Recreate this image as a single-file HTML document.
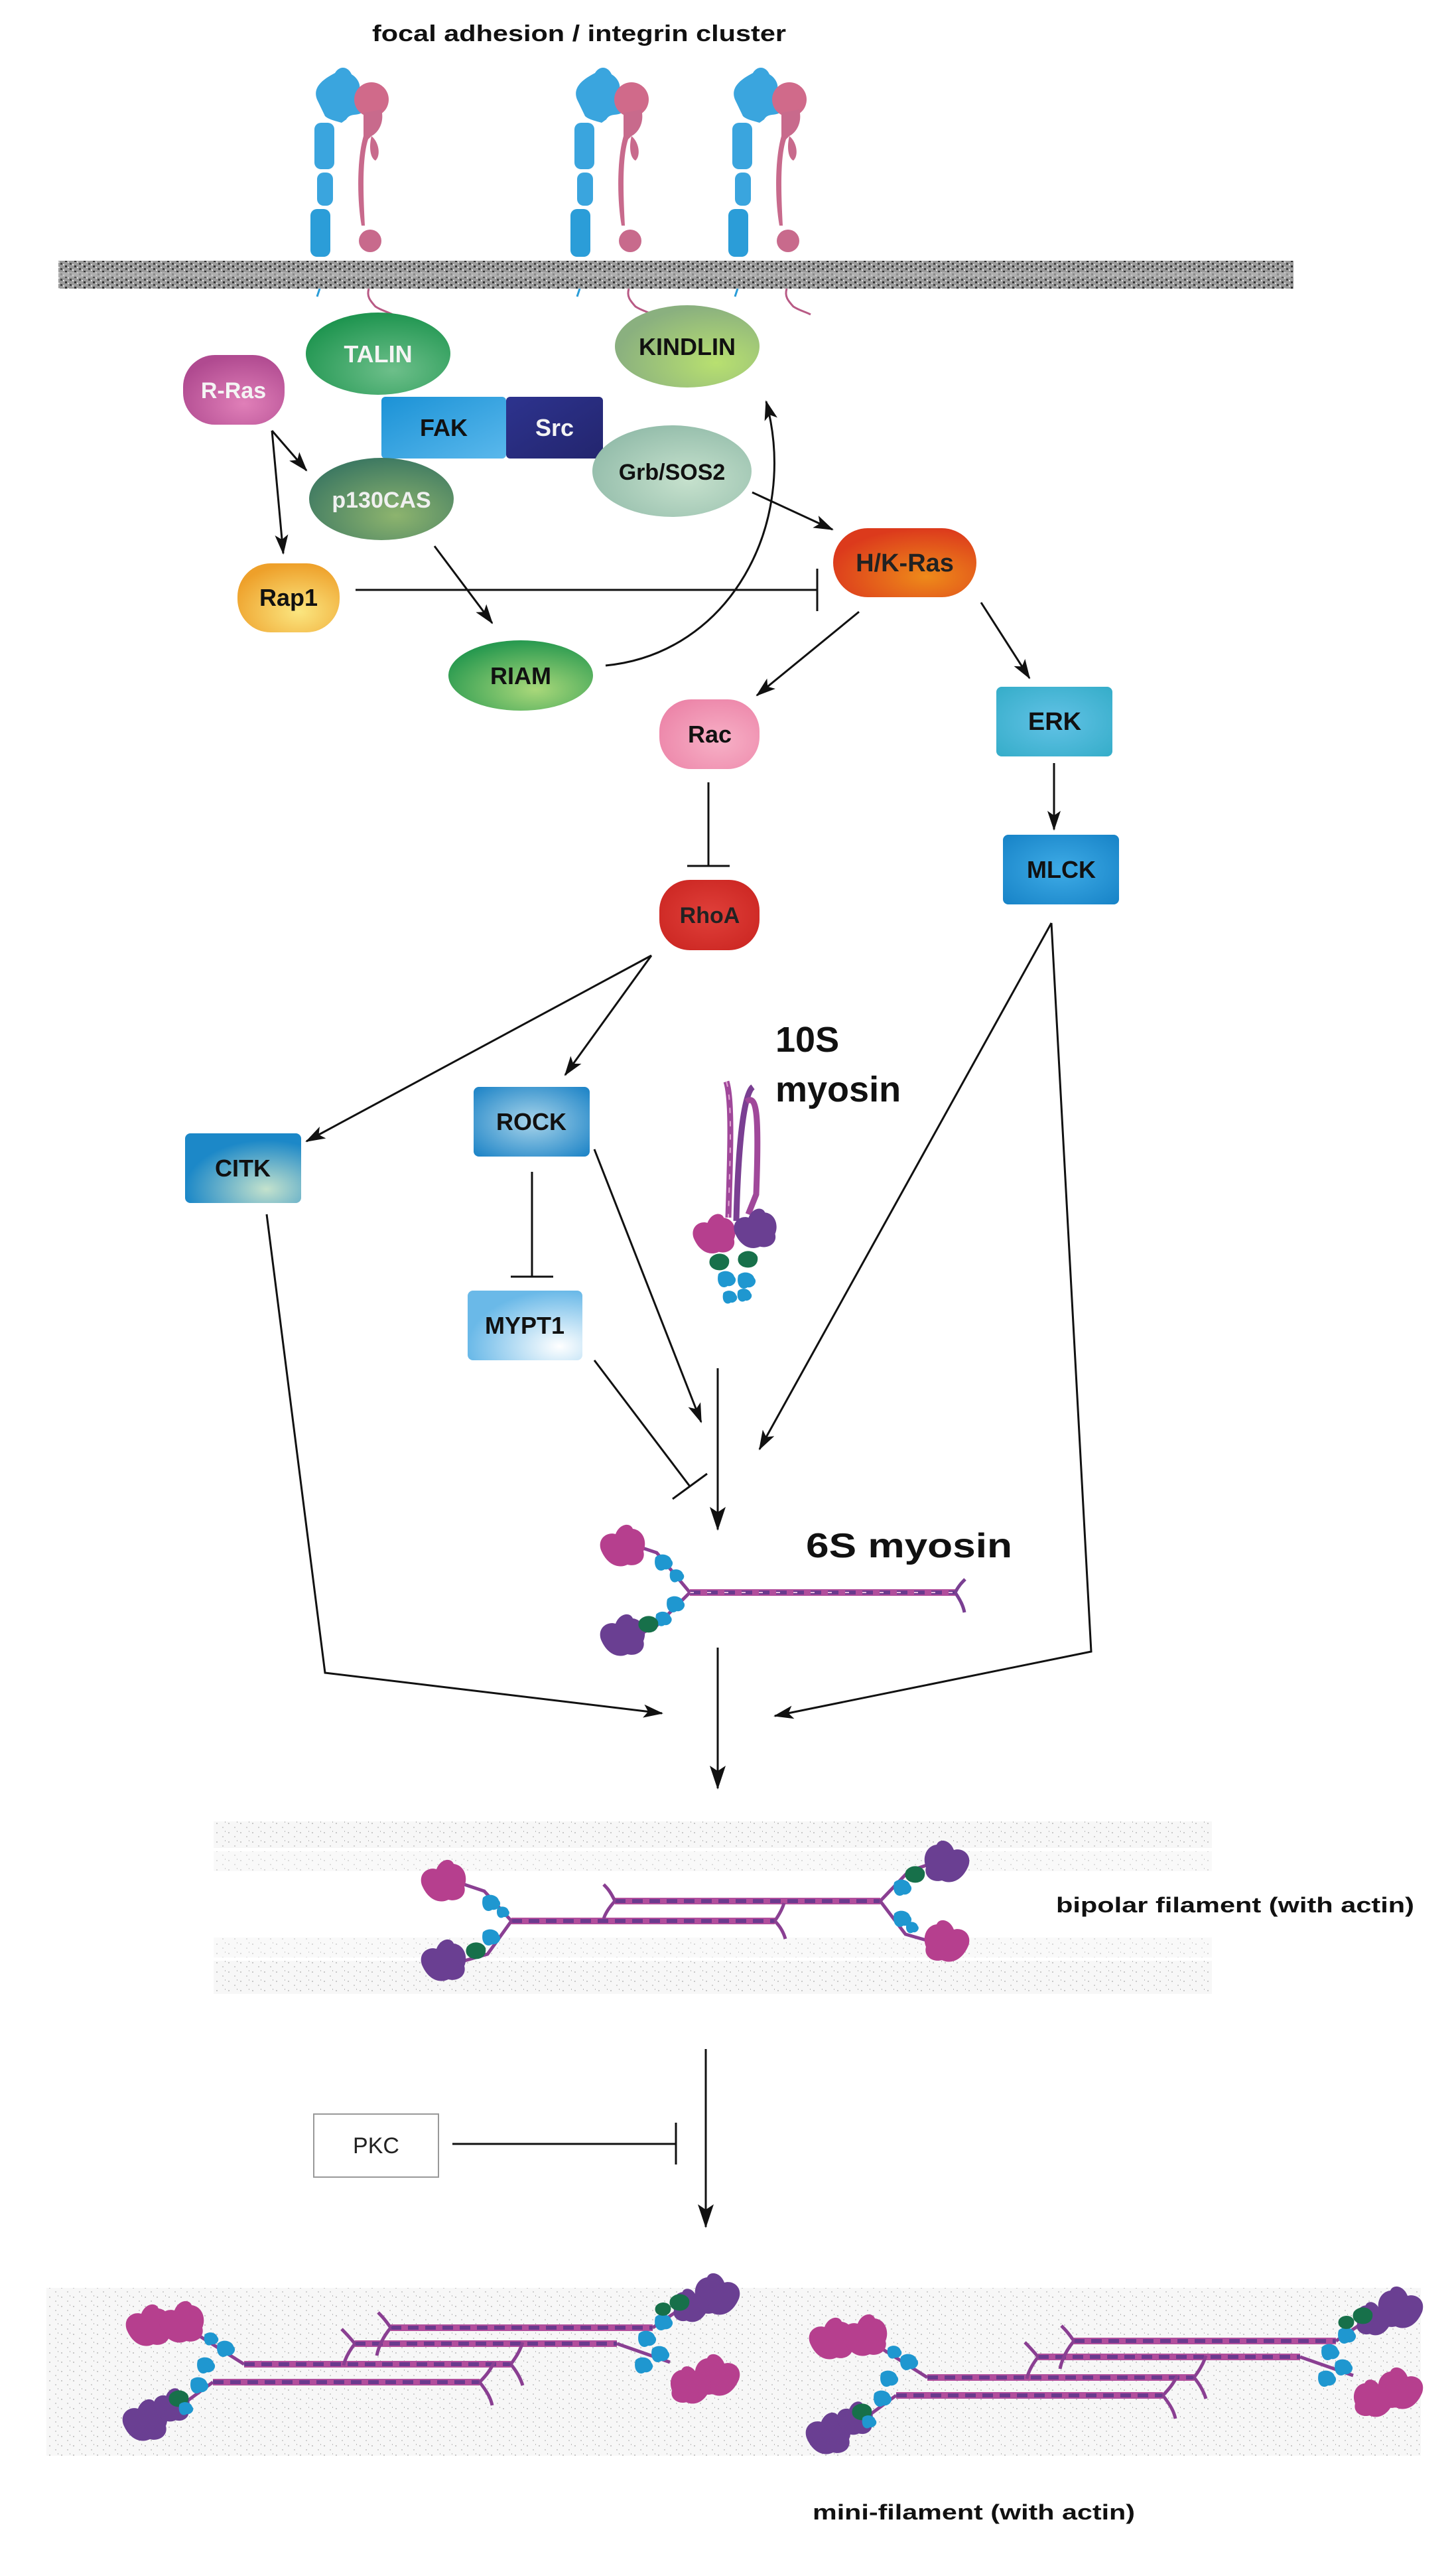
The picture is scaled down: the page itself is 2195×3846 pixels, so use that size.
<!DOCTYPE html>
<html><head><meta charset="utf-8">
<style>
html,body{margin:0;padding:0;background:#fff;}
svg{display:block;}
text{font-family:"Liberation Sans",Arial,sans-serif;}
</style></head>
<body>
<svg width="2195" height="3846" viewBox="0 0 2195 3846" xmlns="http://www.w3.org/2000/svg">
<defs>
<marker id="ar" markerWidth="10" markerHeight="8" refX="9" refY="4" orient="auto" markerUnits="userSpaceOnUse" viewBox="0 0 10 8" >
</marker>
<marker id="a" viewBox="0 0 30 20" refX="28" refY="10" markerWidth="30" markerHeight="20" orient="auto" markerUnits="userSpaceOnUse">
<path d="M0,0 L30,10 L0,20 L7,10 Z" fill="#111"/>
</marker>
<marker id="aL" viewBox="0 0 36 24" refX="34" refY="12" markerWidth="36" markerHeight="24" orient="auto" markerUnits="userSpaceOnUse">
<path d="M0,0 L36,12 L0,24 L8,12 Z" fill="#111"/>
</marker>
<pattern id="mem" width="14" height="8" patternUnits="userSpaceOnUse">
<rect width="14" height="8" fill="#9a9a9a"/>
<rect x="0" y="0" width="3" height="3" fill="#333"/><rect x="7" y="4" width="3" height="3" fill="#444"/>
<rect x="4" y="2" width="2" height="2" fill="#ddd"/><rect x="11" y="6" width="2" height="2" fill="#e5e5e5"/>
</pattern>
<pattern id="act" width="18" height="14" patternUnits="userSpaceOnUse">
<rect width="18" height="14" fill="#f7f7f7"/>
<rect x="2" y="3" width="2" height="2" fill="#c8c8c8"/><rect x="11" y="9" width="2" height="2" fill="#d0d0d0"/><rect x="15" y="1" width="1" height="2" fill="#bbb"/>
</pattern>
<radialGradient id="gTalin" cx="0.6" cy="0.7" r="0.7"><stop offset="0" stop-color="#6dbf8a"/><stop offset="1" stop-color="#1f9550"/></radialGradient>
<radialGradient id="gRras" cx="0.6" cy="0.7" r="0.7"><stop offset="0" stop-color="#e07fb8"/><stop offset="1" stop-color="#b04a90"/></radialGradient>
<linearGradient id="gFak" x1="0" y1="0" x2="1" y2="1"><stop offset="0" stop-color="#1b92d6"/><stop offset="1" stop-color="#5ab8ec"/></linearGradient>
<linearGradient id="gSrc" x1="0" y1="0" x2="1" y2="1"><stop offset="0" stop-color="#2d338e"/><stop offset="1" stop-color="#23256e"/></linearGradient>
<radialGradient id="gP130" cx="0.6" cy="0.7" r="0.7"><stop offset="0" stop-color="#8db46e"/><stop offset="1" stop-color="#3f7a62"/></radialGradient>
<radialGradient id="gRap" cx="0.6" cy="0.7" r="0.7"><stop offset="0" stop-color="#fbe680"/><stop offset="1" stop-color="#eea02a"/></radialGradient>
<radialGradient id="gRiam" cx="0.6" cy="0.7" r="0.7"><stop offset="0" stop-color="#a9d87a"/><stop offset="1" stop-color="#27994f"/></radialGradient>
<radialGradient id="gKin" cx="0.7" cy="0.7" r="0.7"><stop offset="0" stop-color="#b8e070"/><stop offset="1" stop-color="#8ab07f"/></radialGradient>
<radialGradient id="gGrb" cx="0.6" cy="0.6" r="0.7"><stop offset="0" stop-color="#c6e1cd"/><stop offset="1" stop-color="#90baa8"/></radialGradient>
<radialGradient id="gHK" cx="0.65" cy="0.7" r="0.7"><stop offset="0" stop-color="#ee8a1a"/><stop offset="1" stop-color="#dc3a1c"/></radialGradient>
<radialGradient id="gRac" cx="0.6" cy="0.6" r="0.7"><stop offset="0" stop-color="#f7b0c6"/><stop offset="1" stop-color="#ec84a8"/></radialGradient>
<radialGradient id="gErk" cx="0.5" cy="0.5" r="0.7"><stop offset="0" stop-color="#62c2e6"/><stop offset="1" stop-color="#35adc9"/></radialGradient>
<radialGradient id="gMlck" cx="0.5" cy="0.5" r="0.7"><stop offset="0" stop-color="#3eabe6"/><stop offset="1" stop-color="#1783c7"/></radialGradient>
<radialGradient id="gRho" cx="0.5" cy="0.5" r="0.7"><stop offset="0" stop-color="#e0403a"/><stop offset="1" stop-color="#c9231f"/></radialGradient>
<radialGradient id="gRock" cx="0.5" cy="0.5" r="0.7"><stop offset="0" stop-color="#a8d4ea"/><stop offset="1" stop-color="#1a82c6"/></radialGradient>
<radialGradient id="gCitk" cx="0.7" cy="0.8" r="0.7"><stop offset="0" stop-color="#c4e2cc"/><stop offset="1" stop-color="#1c88c8"/></radialGradient>
<radialGradient id="gMypt" cx="0.8" cy="0.8" r="0.8"><stop offset="0" stop-color="#ffffff"/><stop offset="1" stop-color="#6ab9e8"/></radialGradient>
<g id="hm"><path d="M-34,6 C-40,-12 -24,-22 -12,-18 C-6,-34 10,-36 14,-26 C30,-24 36,-6 30,8 C34,22 20,32 6,28 C-6,34 -24,30 -34,6Z" fill="#b63f8e"/></g>
<g id="hp"><path d="M-34,6 C-40,-12 -24,-22 -12,-18 C-6,-34 10,-36 14,-26 C30,-24 36,-6 30,8 C34,22 20,32 6,28 C-6,34 -24,30 -34,6Z" fill="#6a3f92"/></g>
<g id="lc"><path d="M-12,-8 C-4,-16 10,-12 12,-4 C18,2 10,12 2,10 C-6,16 -16,8 -12,-8Z" fill="#1f97d0"/></g>
<g id="lg"><path d="M-14,-6 C-6,-16 10,-14 14,-4 C16,8 6,14 -4,12 C-14,10 -18,2 -14,-6Z" fill="#17704a"/></g>
</defs>

<!-- title -->
<text x="873" y="62" font-size="34" font-weight="bold" text-anchor="middle" fill="#111" textLength="624" lengthAdjust="spacingAndGlyphs">focal adhesion / integrin cluster</text>

<!-- membrane -->
<rect x="88" y="393" width="1862" height="42" fill="url(#mem)"/>
<rect x="88" y="410" width="1862" height="8" fill="#bdbdbd" opacity="0.6"/>

<!-- integrins -->
<g id="integ">
 <path d="M478,150 C470,130 490,118 505,110 C512,98 525,100 530,112 C540,118 546,130 540,140 C548,150 550,160 545,170 C538,175 528,170 522,180 L515,185 C505,182 495,180 490,175 Z" fill="#3aa5de"/>
 <rect x="474" y="185" width="30" height="70" rx="10" fill="#3aa5de"/>
 <rect x="478" y="260" width="24" height="50" rx="10" fill="#3aa5de"/>
 <rect x="468" y="315" width="30" height="72" rx="10" fill="#2b9dd8"/>
 <circle cx="560" cy="150" r="26" fill="#d06a8a"/>
 <path d="M548,170 L575,165 C580,185 570,200 560,205 L555,210 C545,240 548,300 550,340 L545,340 C538,300 538,240 548,205 Z" fill="#c86a8c"/>
 <path d="M560,205 C572,215 574,235 566,242 C558,238 556,222 560,205Z" fill="#c86a8c"/>
 <circle cx="558" cy="363" r="17" fill="#c86a8c"/>
 <path d="M556,435 C552,448 560,455 566,462 C575,468 585,470 592,474" stroke="#b85a85" stroke-width="3" fill="none"/>
 <path d="M482,435 L478,447" stroke="#2b9dd8" stroke-width="3"/>
</g>
<use href="#integ" transform="translate(392,0)"/>
<use href="#integ" transform="translate(630,0)"/>

<!-- nodes -->
<ellipse cx="570" cy="533" rx="109" ry="62" fill="url(#gTalin)"/>
<text x="570" y="546" font-size="36" font-weight="bold" text-anchor="middle" fill="#f4f4f4">TALIN</text>
<rect x="276" y="535" width="153" height="105" rx="48" fill="url(#gRras)"/>
<text x="352" y="600" font-size="34" font-weight="bold" text-anchor="middle" fill="#f4f4f4">R-Ras</text>
<rect x="575" y="598" width="188" height="93" rx="6" fill="url(#gFak)"/>
<text x="669" y="657" font-size="36" font-weight="bold" text-anchor="middle" fill="#111">FAK</text>
<rect x="763" y="598" width="146" height="93" rx="6" fill="url(#gSrc)"/>
<text x="836" y="657" font-size="36" font-weight="bold" text-anchor="middle" fill="#f4f4f4">Src</text>
<ellipse cx="1036" cy="522" rx="109" ry="62" fill="url(#gKin)"/>
<text x="1036" y="535" font-size="36" font-weight="bold" text-anchor="middle" fill="#111">KINDLIN</text>
<ellipse cx="1013" cy="710" rx="120" ry="69" fill="url(#gGrb)"/>
<text x="1013" y="723" font-size="34" font-weight="bold" text-anchor="middle" fill="#111">Grb/SOS2</text>
<ellipse cx="575" cy="752" rx="109" ry="62" fill="url(#gP130)"/>
<text x="575" y="765" font-size="34" font-weight="bold" text-anchor="middle" fill="#f0f0f0">p130CAS</text>
<rect x="358" y="849" width="154" height="104" rx="50" fill="url(#gRap)"/>
<text x="435" y="913" font-size="36" font-weight="bold" text-anchor="middle" fill="#111">Rap1</text>
<ellipse cx="785" cy="1018" rx="109" ry="53" fill="url(#gRiam)"/>
<text x="785" y="1031" font-size="36" font-weight="bold" text-anchor="middle" fill="#111">RIAM</text>
<rect x="1256" y="796" width="216" height="104" rx="52" fill="url(#gHK)"/>
<text x="1364" y="861" font-size="38" font-weight="bold" text-anchor="middle" fill="#222">H/K-Ras</text>
<rect x="994" y="1054" width="151" height="105" rx="48" fill="url(#gRac)"/>
<text x="1070" y="1119" font-size="36" font-weight="bold" text-anchor="middle" fill="#111">Rac</text>
<rect x="1502" y="1035" width="175" height="105" rx="8" fill="url(#gErk)"/>
<text x="1590" y="1100" font-size="38" font-weight="bold" text-anchor="middle" fill="#111">ERK</text>
<rect x="1512" y="1258" width="175" height="105" rx="8" fill="url(#gMlck)"/>
<text x="1600" y="1323" font-size="36" font-weight="bold" text-anchor="middle" fill="#111">MLCK</text>
<rect x="994" y="1326" width="151" height="106" rx="46" fill="url(#gRho)"/>
<text x="1070" y="1391" font-size="34" font-weight="bold" text-anchor="middle" fill="#222">RhoA</text>
<rect x="714" y="1638" width="175" height="105" rx="8" fill="url(#gRock)"/>
<text x="801" y="1703" font-size="36" font-weight="bold" text-anchor="middle" fill="#111">ROCK</text>
<rect x="279" y="1708" width="175" height="105" rx="8" fill="url(#gCitk)"/>
<text x="366" y="1773" font-size="36" font-weight="bold" text-anchor="middle" fill="#111">CITK</text>
<rect x="705" y="1945" width="173" height="105" rx="8" fill="url(#gMypt)"/>
<text x="791" y="2010" font-size="36" font-weight="bold" text-anchor="middle" fill="#111">MYPT1</text>

<!-- connectors -->
<g stroke="#111" stroke-width="3" fill="none">
 <line x1="410" y1="649" x2="462" y2="709" marker-end="url(#a)"/>
 <line x1="410" y1="649" x2="427" y2="834" marker-end="url(#a)"/>
 <line x1="655" y1="823" x2="742" y2="939" marker-end="url(#a)"/>
 <line x1="536" y1="889" x2="1232" y2="889"/>
 <line x1="1232" y1="857" x2="1232" y2="921"/>
 <path d="M913,1003 C1100,985 1205,790 1155,605" marker-end="url(#a)"/>
 <line x1="1134" y1="742" x2="1255" y2="798" marker-end="url(#a)"/>
 <line x1="1295" y1="922" x2="1141" y2="1048" marker-end="url(#a)"/>
 <line x1="1479" y1="908" x2="1552" y2="1022" marker-end="url(#a)"/>
 <line x1="1589" y1="1150" x2="1589" y2="1250" marker-end="url(#a)"/>
 <line x1="1068" y1="1179" x2="1068" y2="1305"/>
 <line x1="1036" y1="1305" x2="1100" y2="1305"/>
 <line x1="982" y1="1440" x2="462" y2="1720" marker-end="url(#a)"/>
 <line x1="982" y1="1440" x2="852" y2="1620" marker-end="url(#a)"/>
 <line x1="802" y1="1766" x2="802" y2="1924"/>
 <line x1="770" y1="1924" x2="834" y2="1924"/>
 <line x1="896" y1="1732" x2="1057" y2="2143" marker-end="url(#a)"/>
 <line x1="1585" y1="1391" x2="1145" y2="2184" marker-end="url(#a)"/>
 <line x1="896" y1="2050" x2="1040" y2="2240"/>
 <line x1="1014" y1="2259" x2="1066" y2="2221"/>
 <line x1="1082" y1="2062" x2="1082" y2="2305" marker-end="url(#aL)"/>
 <polyline points="402,1830 490,2521 998,2582" marker-end="url(#a)"/>
 <polyline points="1585,1391 1645,2489 1168,2586" marker-end="url(#a)"/>
 <line x1="1082" y1="2483" x2="1082" y2="2695" marker-end="url(#aL)"/>
 <line x1="1064" y1="3088" x2="1064" y2="3356" marker-end="url(#aL)"/>
 <line x1="682" y1="3231" x2="1019" y2="3231"/>
 <line x1="1019" y1="3199" x2="1019" y2="3262"/>
</g>

<!-- 10S myosin -->
<text x="1169" y="1585" font-size="54" font-weight="bold" fill="#111">10S</text>
<text x="1169" y="1660" font-size="54" font-weight="bold" fill="#111">myosin</text>
<g>
 <path d="M1095,1630 C1105,1660 1100,1760 1098,1835" stroke="#a0489a" stroke-width="9" fill="none"/>
 <path d="M1135,1638 C1118,1650 1112,1760 1110,1840" stroke="#7a3f92" stroke-width="9" fill="none"/>
 <path d="M1125,1660 C1140,1650 1145,1670 1140,1800 L1128,1830" stroke="#a0489a" stroke-width="9" fill="none"/>
 <path d="M1095,1630 C1105,1660 1100,1760 1098,1835" stroke="#e3a8d4" stroke-width="2" stroke-dasharray="8 12" fill="none"/>
 <use href="#hm" transform="translate(1078,1860) scale(0.95)"/>
 <use href="#hp" transform="translate(1140,1852) scale(0.95)"/>
 <use href="#lg" transform="translate(1085,1902)"/>
 <use href="#lg" transform="translate(1128,1898)"/>
 <use href="#lc" transform="translate(1095,1928)"/>
 <use href="#lc" transform="translate(1125,1930)"/>
 <use href="#lc" transform="translate(1100,1955) scale(0.8)"/>
 <use href="#lc" transform="translate(1122,1952) scale(0.8)"/>
</g>

<!-- 6S myosin -->
<text x="1215" y="2347" font-size="52" font-weight="bold" fill="#111" textLength="311" lengthAdjust="spacingAndGlyphs">6S myosin</text>
<g>
 <line x1="1040" y1="2400" x2="1440" y2="2400" stroke="#b14e9c" stroke-width="10"/>
 <line x1="1040" y1="2400" x2="1440" y2="2400" stroke="#6a3a8e" stroke-width="6" stroke-dasharray="16 10"/>
 <line x1="1040" y1="2400" x2="1440" y2="2400" stroke="#e8b8dc" stroke-width="2" stroke-dasharray="6 20"/>
 <path d="M1440,2400 C1445,2390 1450,2385 1455,2380 M1440,2400 C1448,2412 1452,2420 1454,2430" stroke="#7a3f92" stroke-width="5" fill="none"/>
 <path d="M1040,2400 L990,2340 L960,2330 M1040,2400 L990,2450 L970,2460" stroke="#8a3f92" stroke-width="5" fill="none"/>
 <use href="#hm" transform="translate(940,2330)"/>
 <use href="#hp" transform="translate(940,2465)"/>
 <use href="#lc" transform="translate(1000,2355)"/>
 <use href="#lc" transform="translate(1020,2375) scale(0.8)"/>
 <use href="#lc" transform="translate(1018,2418)"/>
 <use href="#lc" transform="translate(1000,2440) scale(0.9)"/>
 <use href="#lg" transform="translate(978,2448)"/>
</g>

<!-- bipolar filament -->
<rect x="322" y="2745" width="1505" height="40" fill="url(#act)"/>
<rect x="322" y="2790" width="1505" height="30" fill="url(#act)" opacity="0.7"/>
<rect x="322" y="2955" width="1505" height="50" fill="url(#act)"/>
<rect x="322" y="2920" width="1505" height="30" fill="url(#act)" opacity="0.7"/>
<g>
 <line x1="771" y1="2895" x2="1168" y2="2895" stroke="#b14e9c" stroke-width="10"/>
 <line x1="771" y1="2895" x2="1168" y2="2895" stroke="#6a3a8e" stroke-width="6" stroke-dasharray="16 10"/>
 <line x1="927" y1="2865" x2="1327" y2="2865" stroke="#b14e9c" stroke-width="10"/>
 <line x1="927" y1="2865" x2="1327" y2="2865" stroke="#6a3a8e" stroke-width="6" stroke-dasharray="16 10"/>
 <path d="M927,2865 C920,2850 915,2845 910,2840 M927,2865 C918,2875 912,2885 910,2892" stroke="#8a3f92" stroke-width="5" fill="none"/>
 <path d="M1168,2895 C1175,2885 1180,2875 1182,2868 M1168,2895 C1178,2905 1182,2915 1184,2922" stroke="#8a3f92" stroke-width="5" fill="none"/>
 <path d="M771,2895 L730,2850 L700,2840 M771,2895 L735,2945 L700,2955" stroke="#8a3f92" stroke-width="5" fill="none"/>
 <path d="M1327,2865 L1370,2820 L1400,2810 M1327,2865 L1365,2915 L1400,2925" stroke="#8a3f92" stroke-width="5" fill="none"/>
 <use href="#hm" transform="translate(670,2835)"/>
 <use href="#hp" transform="translate(670,2955)"/>
 <use href="#hp" transform="translate(1426,2806) scale(-1,1)"/>
 <use href="#hm" transform="translate(1426,2926) scale(-1,1)"/>
 <use href="#lc" transform="translate(740,2868)"/><use href="#lc" transform="translate(758,2882) scale(0.7)"/>
 <use href="#lc" transform="translate(740,2920)"/><use href="#lg" transform="translate(718,2940)"/>
 <use href="#lc" transform="translate(1360,2845)"/><use href="#lg" transform="translate(1380,2825)"/>
 <use href="#lc" transform="translate(1360,2892)"/><use href="#lc" transform="translate(1375,2905) scale(0.7)"/>
</g>
<text x="1592" y="2882" font-size="32" font-weight="bold" fill="#111" textLength="540" lengthAdjust="spacingAndGlyphs">bipolar filament (with actin)</text>

<!-- PKC -->
<rect x="473" y="3186" width="188" height="95" fill="#fff" stroke="#999" stroke-width="2"/>
<text x="567" y="3245" font-size="34" text-anchor="middle" fill="#222">PKC</text>

<!-- mini filaments -->
<rect x="70" y="3448" width="2072" height="253" fill="url(#act)"/>
<g id="mini">
 <g stroke-width="10">
  <line x1="589" y1="3508" x2="984" y2="3508" stroke="#b14e9c"/>
  <line x1="535" y1="3532" x2="930" y2="3532" stroke="#b14e9c"/>
  <line x1="368" y1="3563" x2="770" y2="3563" stroke="#b14e9c"/>
  <line x1="321" y1="3590" x2="723" y2="3590" stroke="#b14e9c"/>
 </g>
 <g stroke-width="6" stroke="#6a3a8e" stroke-dasharray="16 10">
  <line x1="589" y1="3508" x2="984" y2="3508"/>
  <line x1="535" y1="3532" x2="930" y2="3532"/>
  <line x1="368" y1="3563" x2="770" y2="3563"/>
  <line x1="321" y1="3590" x2="723" y2="3590"/>
 </g>
 <g stroke="#8a3f92" stroke-width="5" fill="none">
  <path d="M589,3508 C580,3495 575,3490 570,3485 M589,3508 C575,3525 570,3540 568,3550"/>
  <path d="M535,3532 C525,3520 520,3515 515,3510 M535,3532 C525,3545 520,3555 518,3565"/>
  <path d="M770,3563 C780,3550 785,3540 788,3530 M770,3563 C780,3575 785,3585 788,3595"/>
  <path d="M723,3590 C735,3605 740,3615 742,3625 M723,3590 C735,3578 740,3570 745,3560"/>
  <path d="M368,3563 L300,3520 L290,3515 M321,3590 L280,3620"/>
  <path d="M984,3508 L1040,3470 M930,3532 L1010,3560"/>
 </g>
 <use href="#hm" transform="translate(225,3505)"/>
 <use href="#hm" transform="translate(275,3500)"/>
 <use href="#hp" transform="translate(220,3648)"/>
 <use href="#hp" transform="translate(260,3625) scale(0.8)"/>
 <use href="#hp" transform="translate(1080,3458) scale(-1,1)"/>
 <use href="#hp" transform="translate(1040,3475) scale(-0.8,0.8)"/>
 <use href="#hm" transform="translate(1080,3580) scale(-1,1)"/>
 <use href="#hm" transform="translate(1040,3595) scale(-0.9,0.9)"/>
 <use href="#lc" transform="translate(340,3540)"/><use href="#lc" transform="translate(310,3565)"/>
 <use href="#lc" transform="translate(300,3595)"/><use href="#lc" transform="translate(318,3525) scale(0.8)"/>
 <use href="#lg" transform="translate(270,3615)"/><use href="#lc" transform="translate(280,3630) scale(0.8)"/>
 <use href="#lc" transform="translate(1000,3500)"/><use href="#lc" transform="translate(975,3525)"/>
 <use href="#lc" transform="translate(995,3548)"/><use href="#lc" transform="translate(970,3565)"/>
 <use href="#lg" transform="translate(1025,3470)"/><use href="#lg" transform="translate(1000,3480) scale(0.8)"/>
</g>
<use href="#mini" transform="translate(1030,20)"/>
<text x="1225" y="3797" font-size="32" font-weight="bold" fill="#111" textLength="486" lengthAdjust="spacingAndGlyphs">mini-filament (with actin)</text>
</svg>
</body></html>
